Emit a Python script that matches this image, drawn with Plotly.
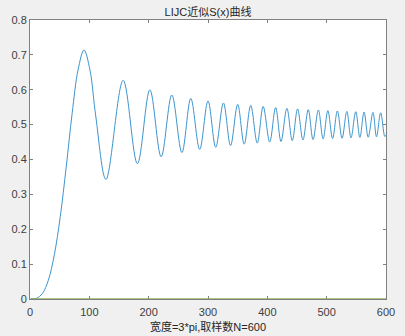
import plotly.graph_objects as go

# Sample index (x) and S(x) value
rise_idx = [1, 11, 21, 31, 41, 51, 61, 71, 81]
rise_val = [0.0, 0.002, 0.016, 0.054, 0.127, 0.236, 0.378, 0.532, 0.657]

osc_idx = [91, 101, 111, 128, 157, 181, 202, 221, 239, 256, 271, 286, 300, 313,
           326, 338, 350, 361, 372, 383, 393, 404, 414, 423, 433, 442, 451, 460,
           469, 477, 486, 494, 502, 510, 518, 526, 534, 541, 549, 556, 563, 570,
           578, 584, 591, 598, 600]
osc_val = [0.714, 0.657, 0.522, 0.343, 0.627, 0.388, 0.600, 0.408, 0.585, 0.420,
           0.575, 0.429, 0.568, 0.435, 0.562, 0.440, 0.558, 0.444, 0.555, 0.447,
           0.552, 0.450, 0.549, 0.452, 0.547, 0.454, 0.545, 0.456, 0.543, 0.457,
           0.542, 0.459, 0.540, 0.460, 0.539, 0.461, 0.538, 0.462, 0.537, 0.463,
           0.536, 0.464, 0.535, 0.465, 0.534, 0.466, 0.470]

zero_idx = [1, 600]
zero_val = [0, 0]

x_ticks = [0, 100, 200, 300, 400, 500, 600]
y_ticks = [0, 0.1, 0.2, 0.3, 0.4, 0.5, 0.6, 0.7, 0.8]

title_text = "LIJC近似S(x)曲线"
xlabel_text = "宽度=3*pi,取样数N=600"

FONT = "Liberation Sans, Arial, Noto Sans CJK SC, sans-serif"

fig = go.Figure()
fig.add_trace(go.Scatter(
    x=rise_idx + osc_idx, y=rise_val + osc_val, mode="lines",
    line=dict(color="#3d95cd", width=1, shape="spline", smoothing=1.0),
    showlegend=False, hoverinfo="skip", cliponaxis=False))
fig.add_trace(go.Scatter(
    x=zero_idx, y=zero_val, mode="lines",
    line=dict(color="#8fae5a", width=1.5),
    showlegend=False, hoverinfo="skip", cliponaxis=False))

axis_common = dict(
    showgrid=False, zeroline=False, showline=True, linecolor="#808080",
    linewidth=1, mirror="ticks", ticks="inside", ticklen=3, tickcolor="#808080",
    tickfont=dict(family=FONT, size=11, color="#404040"), layer="below traces",
    automargin=False,
)

fig.update_layout(
    width=405, height=336,
    margin=dict(l=30, r=19, t=20, b=37),
    paper_bgcolor="#f0f0f0", plot_bgcolor="#ffffff",
    hovermode=False,
    title=dict(text=title_text, x=0.5, xanchor="center", y=0.965, yanchor="middle",
               xref="paper", font=dict(family=FONT, size=11, color="#262626")),
    xaxis=dict(range=[0, 600], tickvals=x_ticks, ticktext=[str(v) for v in x_ticks],
               ticklabelstandoff=3,
               title=dict(text=xlabel_text, standoff=6,
                          font=dict(family=FONT, size=11, color="#262626")),
               **axis_common),
    yaxis=dict(range=[0, 0.8], tickvals=y_ticks,
               ticktext=["0" if v == 0 else f"{v:.1f}" for v in y_ticks],
               **axis_common),
)

fig.write_html(
    "out.html",
    config={"displayModeBar": False, "staticPlot": True},
    post_script="document.body.style.margin='0';document.body.style.background='#f0f0f0';",
)
